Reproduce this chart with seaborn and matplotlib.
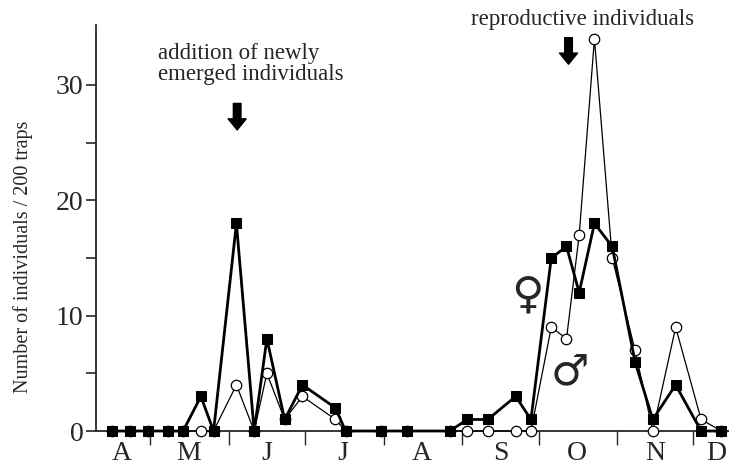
import numpy as np
import pandas as pd
import matplotlib
matplotlib.use("Agg")
import matplotlib.pyplot as plt
import seaborn as sns

# sampling dates (day of year)
days = [106, 113, 120, 128, 134, 141, 146, 155, 162, 167, 174, 181, 194, 198,
        212, 222, 239, 246, 254, 265, 271, 279, 285, 290, 296, 303, 312, 319,
        328, 338, 346]
female = [0, 0, 0, 0, 0, 3, 0, 18, 0, 8, 1, 4, 2, 0,
          0, 0, 0, 1, 1, 3, 1, 15, 16, 12, 18, 16, 6, 1,
          4, 0, 0]
male = [0, 0, 0, 0, 0, 0, 0, 4, 0, 5, 1, 3, 1, 0,
        0, 0, 0, 0, 0, 0, 0, 9, 8, 17, 34, 15, 7, 0,
        9, 1, 0]
month_starts = [121, 152, 182, 213, 244, 274, 305, 335]
month_mids = [110, 136, 167, 197, 228, 259, 289, 320, 344]
month_labels = ["A", "M", "J", "J", "A", "S", "O", "N", "D"]
yticks_major = [0, 10, 20, 30]
yticks_minor = [5, 15, 25]

sns.set_style("ticks")
plt.rcParams["font.family"] = ["Liberation Serif", "DejaVu Sans"]

df = pd.DataFrame({"day": days, "female": female, "male": male})

fig = plt.figure(figsize=(7.29, 4.65), dpi=100)
ax = fig.add_axes([96 / 729, 34 / 465, 633 / 729, 406 / 465])

sns.lineplot(data=df, x="day", y="male", ax=ax, color="black", linewidth=0.9,
             marker="o", markersize=7.5, markerfacecolor="white",
             markeredgecolor="black", markeredgewidth=0.9, sort=False,
             clip_on=False, zorder=3)
sns.lineplot(data=df, x="day", y="female", ax=ax, color="black", linewidth=2.0,
             marker="s", markersize=7.5, markerfacecolor="black",
             markeredgecolor="black", sort=False, clip_on=False, zorder=4)

ax.set_xlim(99.7, 349)
ax.set_ylim(0, 35.2)
sns.despine(ax=ax)
ax.spines["left"].set_linewidth(1.3)
ax.spines["bottom"].set_linewidth(1.3)

ax.set_yticks(yticks_major)
ax.set_yticks(yticks_minor, minor=True)
ax.tick_params(axis="y", which="both", direction="out", length=7, width=1.2,
               labelsize=20, pad=2)

ax.set_xticks(month_starts)
ax.set_xticklabels([""] * len(month_starts))
ax.set_xticks(month_mids, minor=True)
ax.set_xticklabels(month_labels, minor=True)
ax.tick_params(axis="x", which="major", direction="out", length=10, width=1.0)
ax.tick_params(axis="x", which="minor", length=0, labelsize=20, pad=7)

ax.set_xlabel("")
ax.set_ylabel("Number of individuals / 200 traps", fontsize=14.5)
ax.yaxis.set_label_coords(-0.099, 0.43)

ax.text(124, 31.8, "addition of newly\nemerged individuals", fontsize=16.5,
        ha="left", va="center", linespacing=1.0)
ax.text(291.5, 35.7, "reproductive individuals", fontsize=16.5,
        ha="center", va="center")

astyle = "simple,head_width=1.3,head_length=0.8,tail_width=0.55"
ax.annotate("", xy=(155.3, 26.1), xytext=(155.3, 28.4),
            arrowprops=dict(arrowstyle=astyle, color="black",
                            shrinkA=0, shrinkB=0))
ax.annotate("", xy=(285.8, 31.8), xytext=(285.8, 34.1),
            arrowprops=dict(arrowstyle=astyle, color="black",
                            shrinkA=0, shrinkB=0),
            annotation_clip=False)

ax.text(269.8, 11.8, "\u2640", fontsize=32, family="DejaVu Sans",
        fontweight="bold", ha="center", va="center")
ax.text(286.5, 5.0, "\u2642", fontsize=31, family="DejaVu Sans",
        fontweight="bold", ha="center", va="center")

fig.savefig("out.png", dpi=100)
